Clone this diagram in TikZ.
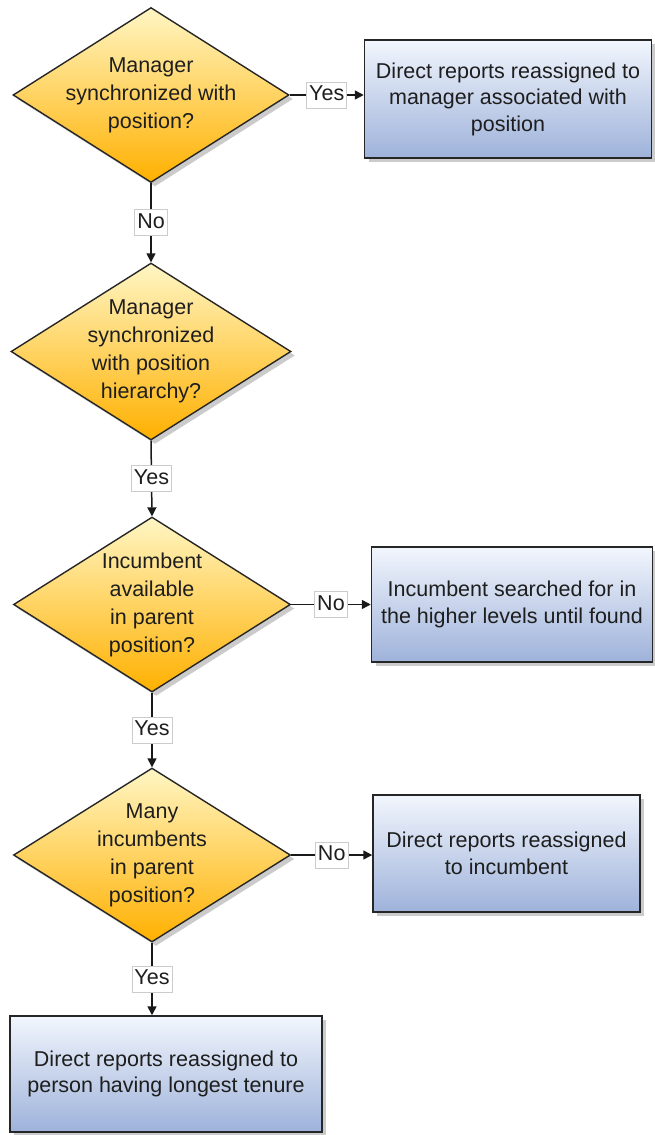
\documentclass[tikz,border=0pt]{standalone}
\usepackage{fontspec}
\setmainfont{Liberation Sans}
\usetikzlibrary{shapes.geometric,arrows.meta,shadows}
\definecolor{dtop}{RGB}{255,246,196}
\definecolor{dbot}{RGB}{255,176,0}
\definecolor{btop}{RGB}{242,246,253}
\definecolor{bbot}{RGB}{158,178,218}
\definecolor{txt}{RGB}{30,30,30}
\begin{document}
\begin{tikzpicture}[x=1pt,y=-1pt,
  every node/.style={text=txt},
  fnt/.style={font=\fontsize{21.5}{28}\selectfont},
  dec/.style={diamond, draw=black!85, line width=1.4pt, inner sep=0pt,
    top color=dtop, bottom color=dbot,
    drop shadow={shadow xshift=4pt, shadow yshift=-4pt, fill=black!40, opacity=0.5}},
  dectext/.style={fnt, align=center, inner sep=0pt},
  stepbox/.style={rectangle, draw=black!85, line width=1.5pt, inner sep=0pt,
    top color=btop, bottom color=bbot, align=center,
    font=\fontsize{21.5}{26.5}\selectfont,
    drop shadow={shadow xshift=4pt, shadow yshift=-4pt, fill=black!40, opacity=0.5}},
  lbl/.style={fnt, fill=white, draw=black!20, line width=0.6pt, inner sep=2.5pt,
    text height=16pt, text depth=5pt},
  arr/.style={line width=1.5pt, draw=black!90, -{Triangle[length=9pt,width=9pt]}}
]
\fill[white] (0,0) rectangle (655,1135);
\useasboundingbox (0,0) rectangle (655,1135);

% decisions
\node[dec, minimum width=276pt, minimum height=175pt] (d1) at (151,95) {};
\node[dectext] (t1) at (d1) {Manager\\synchronized with\\position?};
\node[dec, minimum width=280pt, minimum height=177pt] (d2) at (151,351.5) {};
\node[dectext] (t2) at (d2) {Manager\\synchronized\\with position\\hierarchy?};
\node[dec, minimum width=277pt, minimum height=175pt] (d3) at (152,604.5) {};
\node[dectext] (t3) at (d3) {Incumbent\\available\\in parent\\position?};
\node[dec, minimum width=277pt, minimum height=174pt] (d4) at (152,855) {};
\node[dectext] (t4) at (d4) {Many\\incumbents\\in parent\\position?};

% outcome boxes
\node[stepbox, minimum width=287pt, minimum height=118pt] (b1) at (508,99)
  {Direct reports reassigned to\\manager associated with\\position};
\node[stepbox, minimum width=281pt, minimum height=115pt] (b2) at (512,604.5)
  {Incumbent searched for in\\the higher levels until found};
\node[stepbox, minimum width=267pt, minimum height=117pt] (b3) at (506.5,853.5)
  {Direct reports reassigned\\to incumbent};
\node[stepbox, minimum width=312pt, minimum height=116pt] (b4) at (166,1074)
  {Direct reports reassigned to\\person having longest tenure};

% connectors
\draw[arr] (d1.east) -- node[lbl] (l1) {Yes} (d1.east -| b1.west);
\draw[arr] (d1.south) -- node[lbl] (l2) {No} (d2.north);
\draw[arr] (d2.south) -- node[lbl] (l3) {Yes} (d3.north);
\draw[arr] (d3.east) -- node[lbl] (l4) {No} (d3.east -| b2.west);
\draw[arr] (d3.south) -- node[lbl] (l5) {Yes} (d4.north);
\draw[arr] (d4.east) -- node[lbl] (l6) {No} (d4.east -| b3.west);
\draw[arr] (d4.south) -- node[lbl] (l7) {Yes} (d4.south |- b4.north);
\end{tikzpicture}
\end{document}
